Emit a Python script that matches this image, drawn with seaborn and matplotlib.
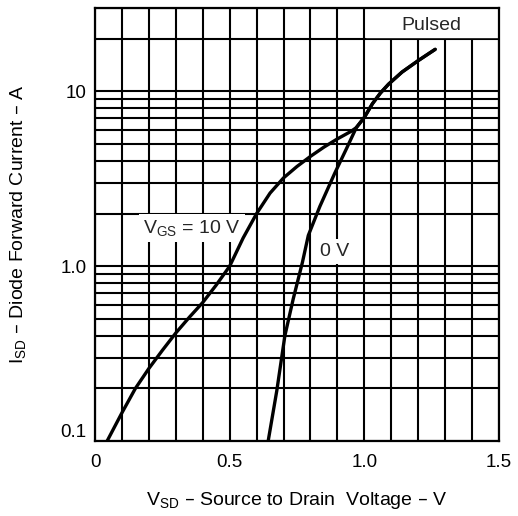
import numpy as np
import pandas as pd
import matplotlib.pyplot as plt
from matplotlib.ticker import MultipleLocator, LogLocator, FixedLocator, FixedFormatter, NullFormatter
import seaborn as sns

# values
vgs10_v = [0.045, 0.10, 0.15, 0.20, 0.25, 0.30, 0.35, 0.40, 0.45, 0.50,
           0.55, 0.60, 0.65, 0.70, 0.75, 0.80, 0.85, 0.90, 0.95, 0.97]
vgs10_i = [0.10, 0.145, 0.20, 0.26, 0.33, 0.415, 0.51, 0.62, 0.78, 1.0,
           1.45, 2.0, 2.62, 3.2, 3.72, 4.25, 4.8, 5.35, 5.9, 6.2]

vgs0_v = [0.643, 0.675, 0.705, 0.736, 0.77, 0.792, 0.835, 0.89, 0.935, 0.97]
vgs0_i = [0.10, 0.194, 0.40, 0.65, 1.05, 1.5, 2.2, 3.4, 4.75, 6.2]

# both curves share the top part
shared_v = [1.0, 1.03, 1.06, 1.09, 1.14, 1.2, 1.263]
shared_i = [7.1, 8.5, 9.8, 11.0, 12.9, 15.0, 17.4]

ytick_vals = [0.1, 1, 10]
ytick_labels = ['0.1', '1.0', '10']
xtick_vals = [0, 0.5, 1.0, 1.5]
xtick_labels = ['0', '0.5', '1.0', '1.5']

df = pd.concat([
    pd.DataFrame({'vsd': vgs10_v + shared_v, 'isd': vgs10_i + shared_i, 'curve': '10 V'}),
    pd.DataFrame({'vsd': vgs0_v + shared_v, 'isd': vgs0_i + shared_i, 'curve': '0 V'}),
])

sns.set_theme(style='white')
plt.rcParams['font.family'] = ['Liberation Sans', 'DejaVu Sans']
plt.rcParams['mathtext.default'] = 'regular'

fig, ax = plt.subplots(figsize=(5.18, 5.16), dpi=100)
fig.subplots_adjust(left=0.1834, right=0.9633, bottom=0.1453, top=0.9845)

sns.lineplot(data=df, x='vsd', y='isd', hue='curve', palette=['black', 'black'],
             sort=False, estimator=None, legend=False, lw=2.4, ax=ax, zorder=4)

ax.set_yscale('log')
ax.set_xlim(0, 1.5)
ax.set_ylim(0.1, 30)

ax.xaxis.set_major_locator(FixedLocator(xtick_vals))
ax.xaxis.set_major_formatter(FixedFormatter(xtick_labels))
ax.xaxis.set_minor_locator(MultipleLocator(0.1))
ax.yaxis.set_major_locator(FixedLocator(ytick_vals))
ax.yaxis.set_major_formatter(FixedFormatter(ytick_labels))
ax.yaxis.set_minor_locator(LogLocator(base=10, subs=np.arange(2, 10)))
ax.yaxis.set_minor_formatter(NullFormatter())

ax.grid(True, which='both', color='black', lw=1.5)
ax.set_axisbelow(True)
ax.tick_params(which='both', length=0, labelsize=13.5, colors='black')
ax.tick_params(axis='x', pad=9)
ax.tick_params(axis='y', pad=6)
for s in ax.spines.values():
    s.set_color('black')
    s.set_linewidth(1.6)

# keep the bottom label inside the frame like the original
fig.canvas.draw()
ax.get_yticklabels()[0].set_va('bottom')

# white box over the top row for the "Pulsed" note
ax.fill_between([1.005, 1.5], 20.4, 30, color='white', zorder=1)
ax.text(1.25, 22.4, 'Pulsed', fontsize=14, ha='center', va='baseline', zorder=3)

box = dict(facecolor='white', edgecolor='none', pad=3)
ax.text(0.178, 1.55, r'V$_{GS}$ = 10 V', fontsize=14, ha='left', va='baseline',
        bbox=box, zorder=3)
ax.text(0.835, 1.14, '0 V', fontsize=14, ha='left', va='baseline', bbox=box, zorder=3)

ax.set_xlabel(r'V$_{SD}$ – Source to Drain  Voltage – V', fontsize=14, color='black')
ax.set_ylabel(r'I$_{SD}$ – Diode Forward Current – A', fontsize=14, color='black')
ax.xaxis.set_label_coords(0.5, -0.113)
ax.yaxis.set_label_coords(-0.166, 0.5)

fig.savefig('out.png', dpi=100)
